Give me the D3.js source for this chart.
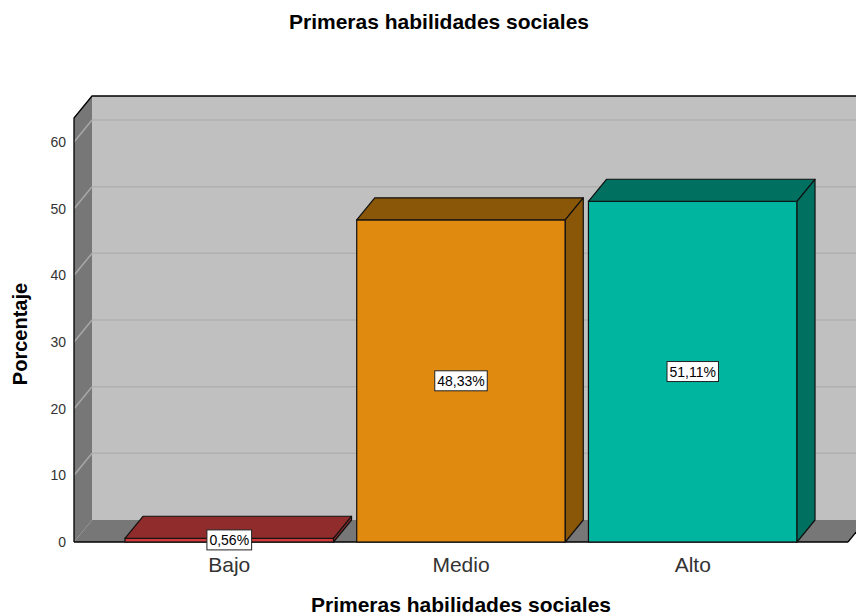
<!DOCTYPE html>
<html>
<head>
<meta charset="utf-8">
<script src="https://cdn.jsdelivr.net/npm/d3@7"></script>
<style>
  body { margin: 0; background: #fff; }
  svg { font-family: "Liberation Sans", Arial, sans-serif; }
</style>
</head>
<body>
<div class="chart"></div>
<script>
// data
var categories = ["Bajo", "Medio", "Alto"];
var percentages = [0.56, 48.33, 51.11];
var valueLabels = ["0,56%", "48,33%", "51,11%"];
var yTicks = [0, 10, 20, 30, 40, 50, 60];
var frontColors = ["#d03a3a", "#e08a10", "#00b5a0"];
var darkColors = ["#902c2c", "#8a5608", "#007060"];

var width = 856, height = 616;
var depthX = 18, depthY = -22;
var plotLeft = 74, plotRight = 848, plotBottom = 542, plotTop = 118;

var svg = d3.select(".chart").append("svg")
  .attr("width", width)
  .attr("height", height);

var x = d3.scaleBand()
  .domain(categories)
  .range([plotLeft, plotRight])
  .paddingInner(0.1)
  .paddingOuter(0.22);

var y = d3.scaleLinear()
  .domain([0, 63.6])
  .range([plotBottom, plotTop]);

function pts(a) { return a.map(function(p){ return p.join(","); }).join(" "); }

// back wall
svg.append("rect")
  .attr("x", plotLeft + depthX).attr("y", plotTop + depthY)
  .attr("width", plotRight - plotLeft).attr("height", plotBottom - plotTop)
  .attr("fill", "#c0c0c0");

// side wall
svg.append("polygon")
  .attr("points", pts([[plotLeft, plotBottom], [plotLeft, plotTop], [plotLeft + depthX, plotTop + depthY], [plotLeft + depthX, plotBottom + depthY]]))
  .attr("fill", "#777777");

// floor
svg.append("polygon")
  .attr("points", pts([[plotLeft, plotBottom], [plotRight, plotBottom], [plotRight + depthX, plotBottom + depthY], [plotLeft + depthX, plotBottom + depthY]]))
  .attr("fill", "#777777");

// gridlines
yTicks.forEach(function(t) {
  if (t === 0) return;
  var yy = y(t);
  svg.append("line")
    .attr("x1", plotLeft + depthX).attr("x2", plotRight + depthX)
    .attr("y1", yy + depthY).attr("y2", yy + depthY)
    .attr("stroke", "#b0b0b0").attr("stroke-width", 1.5);
  svg.append("line")
    .attr("x1", plotLeft).attr("x2", plotLeft + depthX)
    .attr("y1", yy).attr("y2", yy + depthY)
    .attr("stroke", "#a8a8a8").attr("stroke-width", 1.5);
});

// frame lines
svg.append("polyline")
  .attr("points", pts([[plotLeft, plotBottom], [plotLeft, plotTop], [plotLeft + depthX, plotTop + depthY], [plotRight + depthX, plotTop + depthY]]))
  .attr("fill", "none").attr("stroke", "#000").attr("stroke-width", 1.3);
svg.append("line")
  .attr("x1", plotLeft).attr("x2", plotRight)
  .attr("y1", plotBottom).attr("y2", plotBottom)
  .attr("stroke", "#000").attr("stroke-width", 1.3);
svg.append("line")
  .attr("x1", plotRight).attr("x2", plotRight + depthX)
  .attr("y1", plotBottom).attr("y2", plotBottom + depthY)
  .attr("stroke", "#000").attr("stroke-width", 1.3);

// bars
var bars = svg.selectAll(".bar")
  .data(categories)
  .enter().append("g")
  .attr("class", "bar");

bars.append("rect")
  .attr("x", function(d){ return x(d); })
  .attr("y", function(d, i){ return y(percentages[i]); })
  .attr("width", x.bandwidth())
  .attr("height", function(d, i){ return plotBottom - y(percentages[i]); })
  .attr("fill", function(d, i){ return frontColors[i]; })
  .attr("stroke", "#111").attr("stroke-width", 1.2);

bars.append("polygon")
  .attr("points", function(d, i) {
    var x0 = x(d), x1 = x(d) + x.bandwidth(), yt = y(percentages[i]);
    return pts([[x0, yt], [x0 + depthX, yt + depthY], [x1 + depthX, yt + depthY], [x1, yt]]);
  })
  .attr("fill", function(d, i){ return darkColors[i]; })
  .attr("stroke", "#111").attr("stroke-width", 1.2).attr("stroke-linejoin", "round");

bars.append("polygon")
  .attr("points", function(d, i) {
    var x1 = x(d) + x.bandwidth(), yt = y(percentages[i]);
    return pts([[x1, yt], [x1 + depthX, yt + depthY], [x1 + depthX, plotBottom + depthY], [x1, plotBottom]]);
  })
  .attr("fill", function(d, i){ return darkColors[i]; })
  .attr("stroke", "#111").attr("stroke-width", 1.2).attr("stroke-linejoin", "round");

// value labels
bars.each(function(d, i) {
  var g = d3.select(this);
  var cx = x(d) + x.bandwidth() / 2;
  var cy = (y(percentages[i]) + plotBottom) / 2;
  if (i === 0) cy = plotBottom - 2;
  var t = g.append("text")
    .attr("x", cx).attr("y", cy)
    .attr("text-anchor", "middle")
    .attr("dy", "0.35em")
    .attr("font-size", 14)
    .attr("fill", "#000")
    .text(valueLabels[i]);
  var bb = t.node().getBBox();
  g.insert("rect", "text")
    .attr("x", bb.x - 2.5).attr("y", bb.y - 2)
    .attr("width", bb.width + 5).attr("height", bb.height + 4)
    .attr("fill", "#fff").attr("stroke", "#222").attr("stroke-width", 1);
});

// y axis tick labels
svg.selectAll(".ytick")
  .data(yTicks)
  .enter().append("text")
  .attr("x", plotLeft - 8)
  .attr("y", function(d){ return y(d); })
  .attr("dy", "0.35em")
  .attr("text-anchor", "end")
  .attr("font-size", 14)
  .attr("fill", "#333")
  .text(function(d){ return d; });

// x category labels
svg.selectAll(".xlab")
  .data(categories)
  .enter().append("text")
  .attr("x", function(d){ return x(d) + x.bandwidth() / 2; })
  .attr("y", 572)
  .attr("text-anchor", "middle")
  .attr("font-size", 21)
  .attr("fill", "#333")
  .text(function(d){ return d; });

// titles
svg.append("text")
  .attr("x", 439).attr("y", 29)
  .attr("text-anchor", "middle")
  .attr("font-size", 21).attr("font-weight", "bold")
  .text("Primeras habilidades sociales");

svg.append("text")
  .attr("x", 461).attr("y", 612)
  .attr("text-anchor", "middle")
  .attr("font-size", 21).attr("font-weight", "bold")
  .text("Primeras habilidades sociales");

svg.append("text")
  .attr("transform", "translate(27,334) rotate(-90)")
  .attr("text-anchor", "middle")
  .attr("font-size", 20).attr("font-weight", "bold")
  .text("Porcentaje");
</script>
</body>
</html>
